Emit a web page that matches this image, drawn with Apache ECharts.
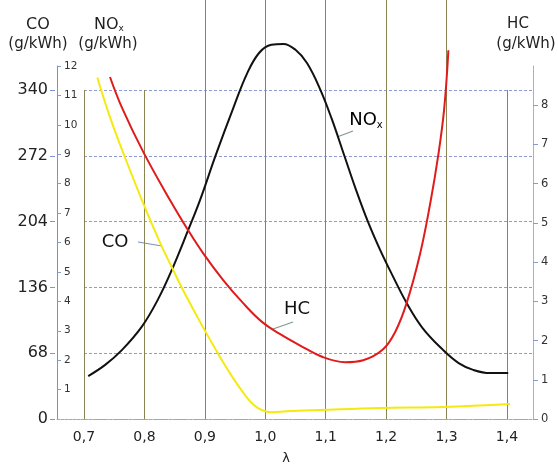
<!DOCTYPE html>
<html>
<head>
<meta charset="utf-8">
<script src="https://cdn.jsdelivr.net/npm/echarts@6/dist/echarts.min.js"></script>
<style>
  html, body { margin: 0; padding: 0; background: #fff; }
  #chart { width: 558px; height: 466px; }
</style>
</head>
<body>
<div id="chart"></div>
<script>
// lambda axis
const lambdaMin = 0.7;
const lambdaMax = 1.4;

// left CO axis ticks (g/kWh)
const coTicks = [0, 68, 136, 204, 272, 340];
const noxMax = 12;
const hcMax = 9;

// NOx curve (left inner axis)
const noxLambda = [0.707, 0.735, 0.763, 0.796, 0.822, 0.846, 0.872, 0.892, 0.918, 0.947, 0.970, 0.990, 1.010, 1.030, 1.050, 1.069, 1.091, 1.110, 1.130, 1.150, 1.170, 1.190, 1.210, 1.234, 1.260, 1.294, 1.320, 1.344, 1.372, 1.402];
const noxValues = [1.46, 1.84, 2.35, 3.15, 4.05, 5.10, 6.40, 7.44, 8.97, 10.57, 11.75, 12.45, 12.72, 12.75, 12.55, 12.10, 11.20, 10.20, 9.00, 7.80, 6.70, 5.75, 4.90, 3.94, 3.10, 2.35, 1.90, 1.67, 1.56, 1.56];

// HC curve (right axis)
const hcLambda = [0.743, 0.763, 0.798, 0.842, 0.872, 0.897, 0.930, 0.963, 0.995, 1.024, 1.057, 1.095, 1.132, 1.162, 1.195, 1.215, 1.234, 1.256, 1.273, 1.286, 1.296, 1.303];
const hcValues = [8.72, 7.93, 6.81, 5.59, 4.82, 4.23, 3.55, 2.96, 2.47, 2.17, 1.88, 1.58, 1.45, 1.50, 1.78, 2.22, 2.96, 4.20, 5.50, 6.70, 7.90, 9.40];

// CO curve (left outer axis)
const coLambda = [0.722, 0.743, 0.768, 0.796, 0.826, 0.846, 0.864, 0.895, 0.928, 0.947, 0.965, 0.980, 0.995, 1.010, 1.036, 1.091, 1.190, 1.294, 1.405];
const coValues = [353, 312, 270, 226, 182, 156, 133, 97, 61, 42, 26, 15, 9, 7, 8, 9.3, 11.4, 12.4, 15.5];

const FONT = 'DejaVu Sans';
const W = 558, H = 466;
const X07 = 84, X14 = 507, XL = 57, XR = 533;
const Y_TOP = 66, Y_340 = 90, Y_BASE = 419;
const step = (X14 - X07) / Math.round((lambdaMax - lambdaMin) * 10); // px per 0.1
const xMaxMain = lambdaMax + (XR - X14) / step * 0.1;
const k = (Y_BASE - Y_340) / (Y_BASE - Y_TOP);

const pairs = (xs, ys) => xs.map((x, i) => [x, ys[i]]);
const fmt = v => v.toFixed(1).replace('.', ',');

const hLine = { show: true, lineStyle: { color: '#8e9bd2', width: 1, type: [3, 2] } };
const vLine = { show: true, lineStyle: { color: '#8a8455', width: 1 } };

const chart = echarts.init(document.getElementById('chart'));

chart.setOption({
  animation: false,
  textStyle: { fontFamily: FONT },
  grid: [
    { left: X07, right: W - XR, top: Y_340, bottom: H - Y_BASE },
    { left: XL, right: W - XR, top: Y_TOP, bottom: H - Y_BASE },
    { left: X07 + 2 * step, right: W - (X07 + 6 * step), top: 0, bottom: H - Y_BASE }
  ],
  xAxis: [
    {
      gridIndex: 0, type: 'value', min: lambdaMin, max: xMaxMain, interval: 0.1,
      axisLine: { show: false }, axisTick: { show: false },
      axisLabel: { formatter: fmt, showMaxLabel: false, fontSize: 14, color: '#222', margin: 11 },
      splitLine: vLine
    },
    {
      gridIndex: 1, type: 'value', min: 0, max: 1,
      axisLine: { show: true, onZero: false, lineStyle: { color: '#9aa6d8', type: [3, 1] } },
      axisTick: { show: false }, axisLabel: { show: false }, splitLine: { show: false }
    },
    {
      gridIndex: 2, type: 'value', min: 0.9, max: 1.3, interval: 0.1,
      axisLine: { show: false }, axisTick: { show: false }, axisLabel: { show: false },
      splitLine: vLine
    }
  ],
  yAxis: [
    {
      gridIndex: 0, type: 'value', position: 'left', offset: X07 - 55,
      min: coTicks[0], max: coTicks[coTicks.length - 1], interval: coTicks[1] - coTicks[0],
      axisLine: { show: false },
      axisTick: { show: true, length: 5, lineStyle: { color: '#7d95d8' } },
      axisLabel: { fontSize: 16, color: '#222', margin: 7 },
      splitLine: hLine
    },
    { gridIndex: 0, type: 'value', min: 0, max: noxMax * k, show: false },
    { gridIndex: 0, type: 'value', min: 0, max: hcMax * k, show: false },
    {
      gridIndex: 1, type: 'value', position: 'left', min: 0, max: noxMax, interval: 1,
      axisLine: { show: true, onZero: false, lineStyle: { color: '#9c9458' } },
      axisTick: { show: true, inside: true, length: 4, lineStyle: { color: '#8a9ad0' } },
      axisLabel: { inside: true, showMinLabel: false, margin: 7, fontSize: 10.5, color: '#333' },
      splitLine: { show: false }
    },
    {
      gridIndex: 1, type: 'value', position: 'right', min: 0, max: hcMax, interval: 1,
      axisLine: { show: true, onZero: false, lineStyle: { color: '#a4aed6' } },
      axisTick: { show: true, length: 5, lineStyle: { color: '#8a9ad0' } },
      axisLabel: { showMaxLabel: false, margin: 8, fontSize: 11.5, color: '#333' },
      splitLine: { show: false }
    },
    { gridIndex: 2, type: 'value', show: false }
  ],
  series: [
    {
      name: 'NOx', type: 'line', xAxisIndex: 0, yAxisIndex: 1, data: pairs(noxLambda, noxValues),
      smooth: 0.4, symbol: 'none', clip: false, lineStyle: { color: '#111', width: 2 }
    },
    {
      name: 'HC', type: 'line', xAxisIndex: 0, yAxisIndex: 2, data: pairs(hcLambda, hcValues),
      smooth: 0.4, symbol: 'none', clip: false, lineStyle: { color: '#e01b1b', width: 2 }
    },
    {
      name: 'CO', type: 'line', xAxisIndex: 0, yAxisIndex: 0, data: pairs(coLambda, coValues),
      smooth: 0.4, symbol: 'none', clip: false, lineStyle: { color: '#f5ea10', width: 2 }
    }
  ],
  graphic: [
    // axis titles
    { type: 'text', x: 38, y: 25, style: { text: 'CO', font: '16px ' + FONT, fill: '#222', align: 'center', verticalAlign: 'middle' } },
    { type: 'text', x: 38, y: 44, style: { text: '(g/kWh)', font: '15px ' + FONT, fill: '#222', align: 'center', verticalAlign: 'middle' } },
    { type: 'text', x: 109, y: 25, style: { text: '{a|NO}{b|x}', fill: '#222', align: 'center', verticalAlign: 'middle',
        rich: { a: { fontSize: 16, fontFamily: FONT, color: '#222' }, b: { fontSize: 9, fontFamily: FONT, color: '#222', padding: [8, 0, 0, 0] } } } },
    { type: 'text', x: 108, y: 44, style: { text: '(g/kWh)', font: '15px ' + FONT, fill: '#222', align: 'center', verticalAlign: 'middle' } },
    { type: 'text', x: 518, y: 24, style: { text: 'HC', font: '15px ' + FONT, fill: '#222', align: 'center', verticalAlign: 'middle' } },
    { type: 'text', x: 526, y: 44, style: { text: '(g/kWh)', font: '15px ' + FONT, fill: '#222', align: 'center', verticalAlign: 'middle' } },
    { type: 'text', x: 286, y: 459, style: { text: 'λ', font: '13px ' + FONT, fill: '#222', align: 'center', verticalAlign: 'middle' } },
    // curve labels
    { type: 'text', x: 115, y: 242, style: { text: 'CO', font: '18px ' + FONT, fill: '#111', align: 'center', verticalAlign: 'middle' } },
    { type: 'line', shape: { x1: 138, y1: 242, x2: 162, y2: 246 }, style: { stroke: '#7f8fb8', lineWidth: 1.2 } },
    { type: 'text', x: 297, y: 309, style: { text: 'HC', font: '18px ' + FONT, fill: '#111', align: 'center', verticalAlign: 'middle' } },
    { type: 'line', shape: { x1: 293, y1: 322, x2: 273, y2: 329 }, style: { stroke: '#7f9a88', lineWidth: 1.2 } },
    { type: 'text', x: 366, y: 120, style: { text: '{a|NO}{b|x}', align: 'center', verticalAlign: 'middle',
        rich: { a: { fontSize: 18, fontFamily: FONT, color: '#111' }, b: { fontSize: 10, fontFamily: FONT, color: '#111', padding: [10, 0, 0, 0] } } } },
    { type: 'line', shape: { x1: 353, y1: 131, x2: 337, y2: 137 }, style: { stroke: '#7f9a88', lineWidth: 1.2 } }
  ]
});
</script>
</body>
</html>
